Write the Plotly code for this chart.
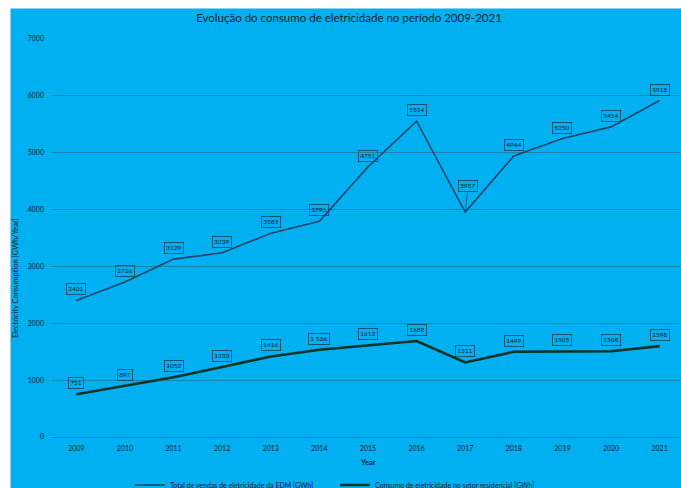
import plotly.graph_objects as go

# Annual electricity figures, 2009-2021 (GWh)
years = ["2009", "2010", "2011", "2012", "2013", "2014", "2015",
         "2016", "2017", "2018", "2019", "2020", "2021"]
total_sales = [2401, 2726, 3129, 3239, 3583, 3795, 4751,
               5554, 3957, 4944, 5250, 5454, 5918]
residential = [751, 897, 1052, 1233, 1416, 1536, 1613,
               1688, 1311, 1499, 1505, 1508, 1598]
residential_text = ["751", "897", "1052", "1233", "1416", "1 536", "1613",
                    "1688", "1311", "1499", "1505", "1508", "1598"]

name_total = "Total de vendas de eletricidade da EDM [GWh]"
name_res = "Consumo de eletricidade no setor residencial [GWh]"

BG = "#00B0F0"
INK = "#10202c"
FONT = "Lato, 'Open Sans', sans-serif"

W, H = 681, 488
ML, MR, MT, MB = 52, 0, 39, 51
PW, PH = W - ML - MR, H - MT - MB


def px_x(p):
    return (p - ML) / PW


def px_y(p):
    return (H - MB - p) / PH


fig = go.Figure()
fig.add_trace(go.Scatter(
    x=years, y=total_sales, mode="lines", name=name_total,
    line=dict(color="#1c4467", width=1.6),
))
fig.add_trace(go.Scatter(
    x=years, y=residential, mode="lines", name=name_res,
    line=dict(color="#0a3226", width=2.6),
))

# Boxed value labels above every point (category index on x)
label_style = dict(
    xref="x", yref="y", font=dict(family=FONT, size=6.5, color=INK),
    bordercolor="#1e3e55", borderwidth=0.8, borderpad=1.5,
)
for i, (yr, v) in enumerate(zip(years, total_sales)):
    if yr == "2017":
        fig.add_annotation(x=i, y=v, text=str(v), showarrow=True,
                           arrowhead=0, arrowwidth=0.7, arrowcolor="#1e3e55",
                           ax=3, ay=-26, **label_style)
    else:
        fig.add_annotation(x=i, y=v, text=str(v), showarrow=False,
                           yshift=11, **label_style)
for i, (v, t) in enumerate(zip(residential, residential_text)):
    fig.add_annotation(x=i, y=v, text=t, showarrow=False, yshift=11,
                       **label_style)

# Axis titles
fig.add_annotation(xref="paper", yref="paper", x=px_x(15), y=px_y(278),
                   xanchor="center", yanchor="middle",
                   text="Electricity Consumption [GWh/Year]", textangle=-90,
                   showarrow=False, font=dict(family=FONT, size=7.5, color=INK))
fig.add_annotation(xref="paper", yref="paper", x=px_x(368), y=px_y(462),
                   xanchor="center", yanchor="middle",
                   text="<b>Year</b>", showarrow=False,
                   font=dict(family=FONT, size=7.5, color=INK))

# Chart area background
fig.add_shape(type="rect", xref="paper", yref="paper", layer="below",
              x0=px_x(10.5), x1=1.05, y0=px_y(495), y1=px_y(8.5),
              fillcolor=BG, line=dict(width=0))

fig.update_layout(
    width=W, height=H,
    margin=dict(l=ML, r=MR, t=MT, b=MB),
    paper_bgcolor="white",
    plot_bgcolor="rgba(0,0,0,0)",
    font=dict(family=FONT, color=INK),
    title=dict(text="Evolução do consumo de eletricidade no período 2009-2021",
               x=349 / W, xanchor="center", y=1 - 18 / H, yanchor="middle",
               font=dict(family=FONT, size=11.5, color=INK)),
    showlegend=True,
    legend=dict(orientation="h", xref="container", x=130 / W, xanchor="left",
                yref="container", y=1 - 485 / H, yanchor="middle",
                bgcolor="rgba(0,0,0,0)", font=dict(family=FONT, size=7, color=INK),
                entrywidth=160, entrywidthmode="pixels",
                itemwidth=30, tracegroupgap=0),
    xaxis=dict(
        type="category", range=[-0.5, 12.44],
        showgrid=False, zeroline=False, showline=False,
        ticks="", tickfont=dict(family=FONT, size=7, color=INK),
        ticklabelstandoff=6,
    ),
    yaxis=dict(
        range=[0, 7000], dtick=1000, tick0=0,
        showgrid=True, gridcolor="#1b85b1", gridwidth=0.8,
        zeroline=True, zerolinecolor="#1b85b1", zerolinewidth=0.8,
        showline=False, ticks="",
        tickfont=dict(family=FONT, size=7, color=INK),
        ticklabelstandoff=7,
    ),
)

fig.write_html("out.html")
